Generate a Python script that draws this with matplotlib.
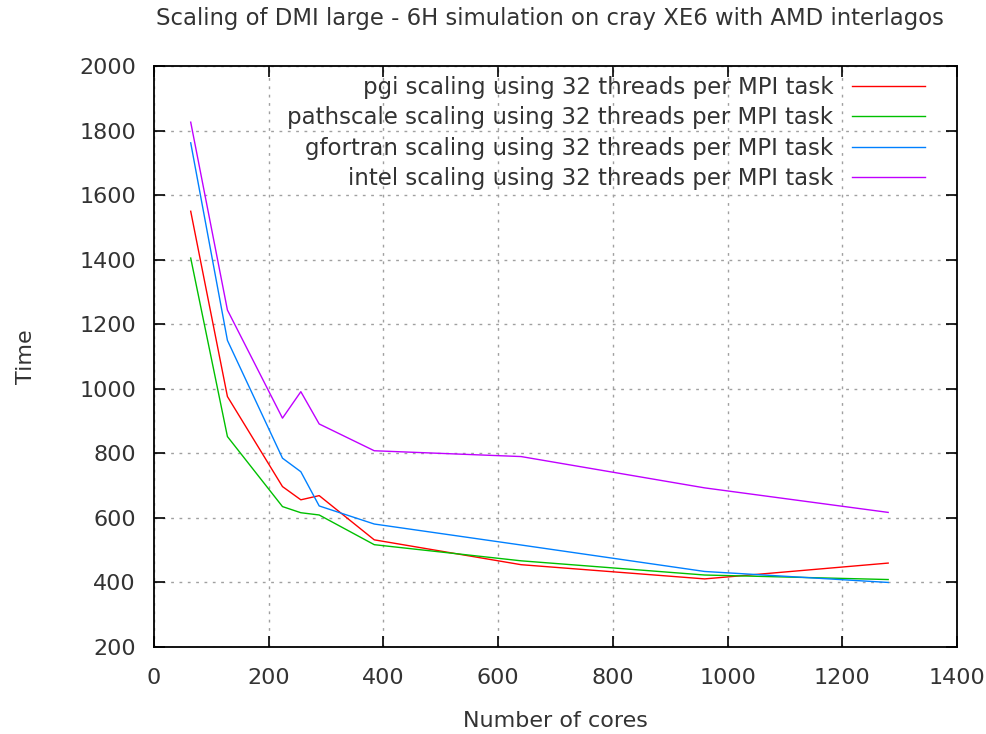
import matplotlib
matplotlib.use("Agg")
import matplotlib.pyplot as plt

cores = [64, 128, 224, 256, 288, 384, 640, 960, 1280]
pgi = [1550, 976, 697, 656, 669, 532, 455, 411, 460]
pathscale = [1405, 852, 635, 616, 609, 517, 467, 423, 409]
gfortran = [1762, 1150, 785, 743, 637, 581, 516, 434, 400]
intel = [1826, 1244, 909, 991, 891, 808, 790, 693, 617]

labels = ["pgi scaling using 32 threads per MPI task",
          "pathscale scaling using 32 threads per MPI task",
          "gfortran scaling using 32 threads per MPI task",
          "intel scaling using 32 threads per MPI task"]
colors = ["#ff0000", "#00c000", "#0080ff", "#c000ff"]
series = [pgi, pathscale, gfortran, intel]

xticks = [0, 200, 400, 600, 800, 1000, 1200, 1400]
yticks = [200, 400, 600, 800, 1000, 1200, 1400, 1600, 1800, 2000]

plt.rcParams['font.family'] = ['DejaVu Sans']
fs = 16
tc = '#333333'

fig = plt.figure(figsize=(9.87, 7.34), dpi=100)
ax = fig.add_axes([154/987, 1 - 647/734, (957-154)/987, (647-66)/734])

for ys, c, lab in zip(series, colors, labels):
    ax.plot(cores, ys, color=c, lw=1.0, label=lab)

ax.set_xlim(0, 1400)
ax.set_ylim(200, 2000)
ax.set_xticks(xticks)
ax.set_yticks(yticks)
ax.tick_params(direction='in', length=8, width=1.2, top=True, right=True,
               labelsize=fs, colors='black')
ax.tick_params(axis='y', pad=13)
ax.tick_params(axis='x', pad=15)
for lab in ax.get_xticklabels() + ax.get_yticklabels():
    lab.set_color(tc)
for s in ax.spines.values():
    s.set_linewidth(1.3)
ax.grid(True, color='#a0a0a0', linestyle=(0, (2, 4)), linewidth=1.0)

ax.set_xlabel("Number of cores", fontsize=fs, color=tc, labelpad=17)
ax.set_ylabel("Time", fontsize=fs, color=tc, labelpad=31)
fig.text(550/987, 1 - 18/734, "Scaling of DMI large - 6H simulation on cray XE6 with AMD interlagos",
         ha='center', va='center', fontsize=16.4, color=tc)

leg = ax.legend(loc='upper right', frameon=False, markerfirst=False, fontsize=16.5,
                handlelength=3.2, handletextpad=0.8, labelspacing=0.32,
                borderpad=0, borderaxespad=0,
                bbox_to_anchor=((925-154)/803, (647-76)/581))
for t in leg.get_texts():
    t.set_color(tc)

fig.savefig("out.png", dpi=100)
